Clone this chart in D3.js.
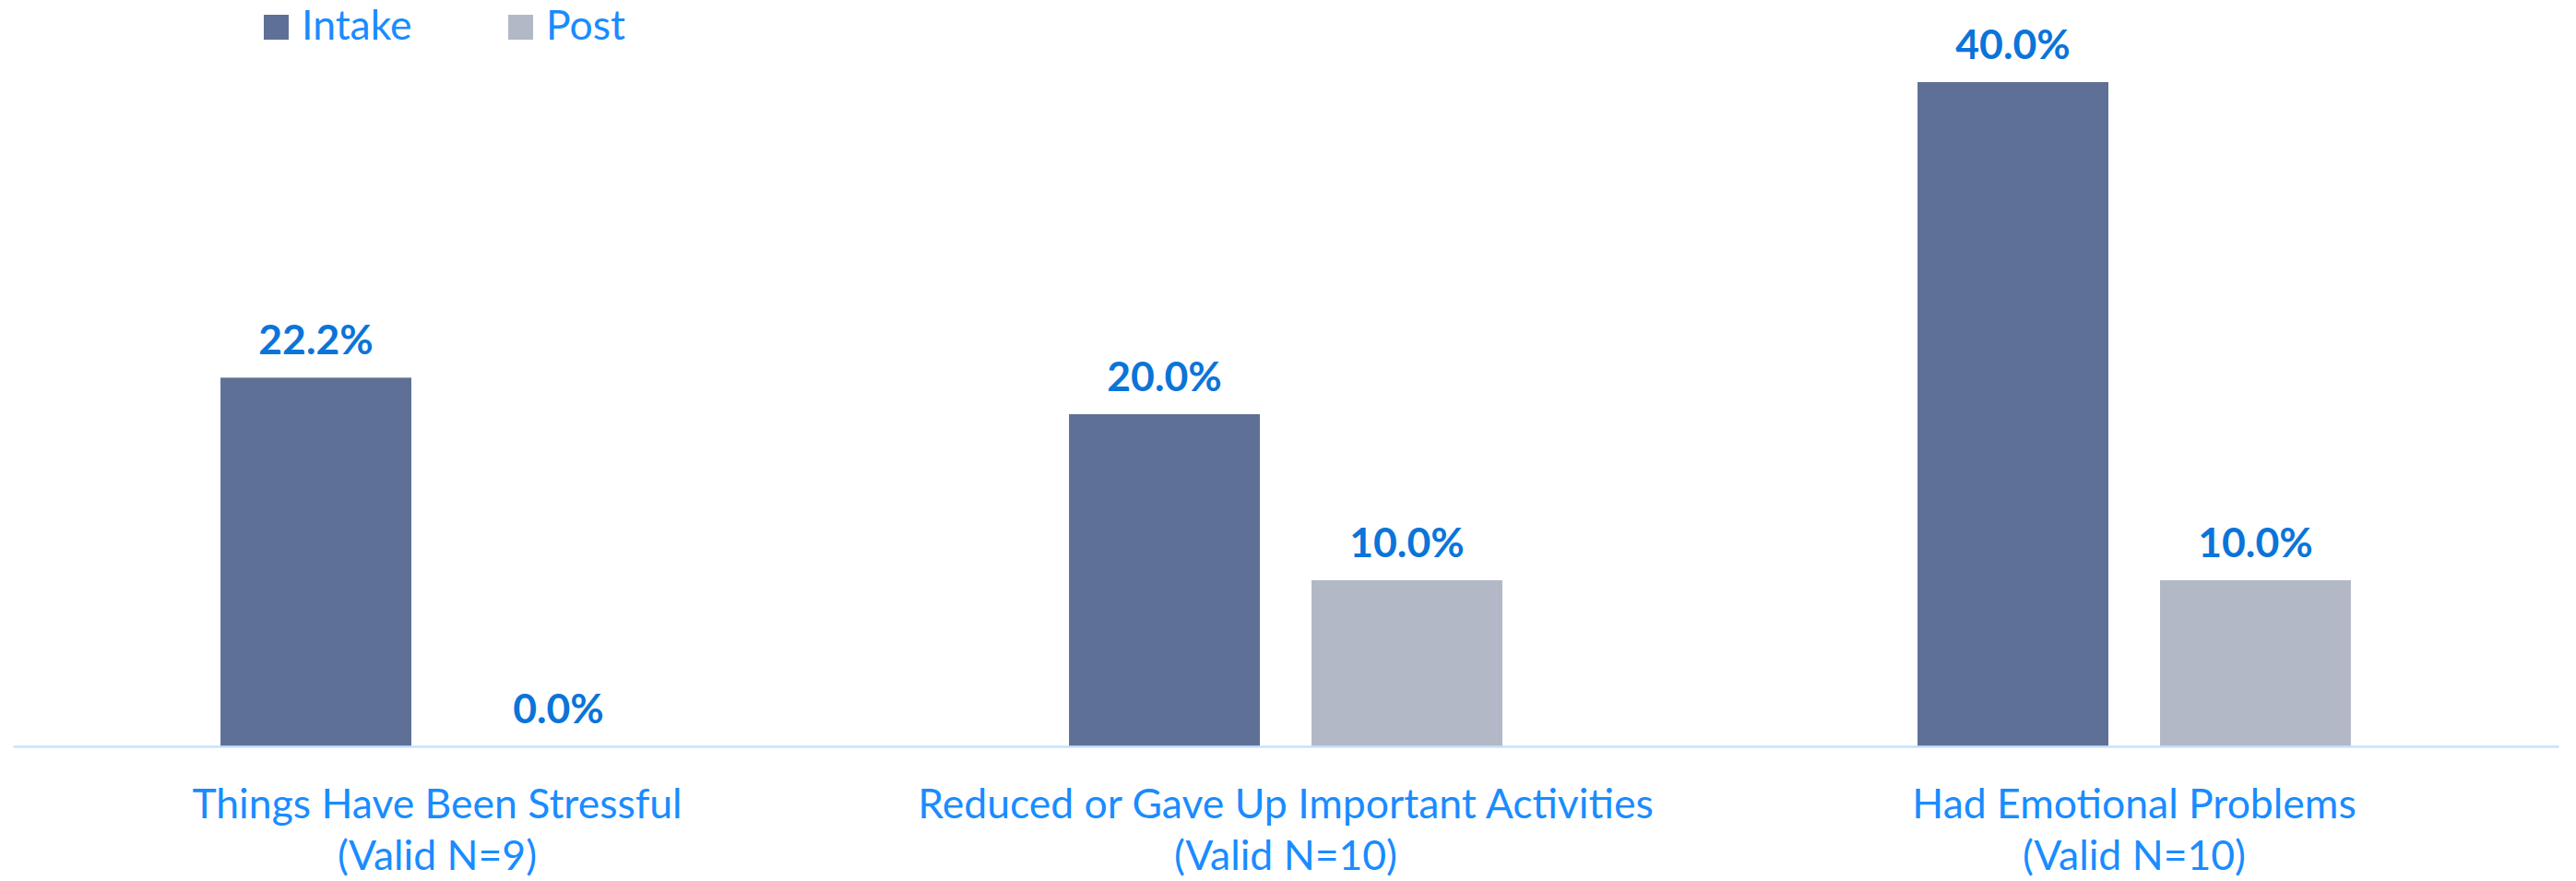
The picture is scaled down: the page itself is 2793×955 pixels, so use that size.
<!DOCTYPE html>
<html>
<head>
<meta charset="utf-8">
<script src="https://cdn.jsdelivr.net/npm/d3@7"></script>
<style>
  html, body { margin: 0; padding: 0; background: #fff; }
  svg { display: block; }
</style>
</head>
<body>
<svg id="chart" width="2793" height="955"></svg>
<script>
const categories = [
  ["Things Have Been Stressful", "(Valid N=9)"],
  ["Reduced or Gave Up Important Activities", "(Valid N=10)"],
  ["Had Emotional Problems", "(Valid N=10)"]
];
const seriesNames = ["Intake", "Post"];
const intakeValues = [22.2, 20.0, 40.0];
const postValues = [0.0, 10.0, 10.0];
const colors = ["#5e7095", "#b2b8c5"];

const W = 2793, H = 955;
const svg = d3.select("#chart");
const FONT = "Lato, 'Open Sans', sans-serif";

const x0 = d3.scaleBand().domain(d3.range(categories.length)).range([14, 2774]).paddingInner(0).paddingOuter(0);
const x1 = d3.scaleBand().domain(seriesNames).range([0, x0.bandwidth()]).paddingInner(0.213).paddingOuter(0.856);
const y = d3.scaleLinear().domain([0, 40]).range([809, 89]);

const series = [intakeValues, postValues];

// bars
const groups = svg.append("g").selectAll("g").data(categories).join("g")
  .attr("transform", (d, i) => `translate(${x0(i)},0)`);

groups.each(function(d, i) {
  const g = d3.select(this);
  seriesNames.forEach((s, si) => {
    const v = series[si][i];
    g.append("rect")
      .attr("x", x1(s))
      .attr("y", y(v))
      .attr("width", x1.bandwidth())
      .attr("height", y(0) - y(v))
      .attr("fill", colors[si]);
    g.append("text")
      .attr("x", x1(s) + x1.bandwidth() / 2)
      .attr("y", y(v) - 25)
      .attr("text-anchor", "middle")
      .attr("font-family", FONT)
      .attr("font-weight", "bold")
      .attr("font-size", 44.5)
      .attr("fill", "#0b74d9")
      .text(v.toFixed(1) + "%");
  });
});

// axis baseline
const axis = d3.axisBottom(x0).tickSize(0).tickFormat("");
const axG = svg.append("g").attr("transform", `translate(0,${y(0)})`).call(axis);
axG.select(".domain").attr("stroke", "#c5e2ff").attr("stroke-width", 2.5);

// category labels
categories.forEach((lines, i) => {
  const t = svg.append("text")
    .attr("text-anchor", "middle")
    .attr("font-family", FONT)
    .attr("font-size", 44.5)
    .attr("fill", "#198cff");
  lines.forEach((ln, li) => {
    t.append("tspan")
      .attr("x", x0(i) + x0.bandwidth() / 2)
      .attr("y", 887 + li * 56)
      .text(ln);
  });
});

// legend
const legendX = [286, 551];
seriesNames.forEach((s, si) => {
  svg.append("rect")
    .attr("x", legendX[si]).attr("y", 16)
    .attr("width", 27).attr("height", 27)
    .attr("fill", colors[si]);
  svg.append("text")
    .attr("x", legendX[si] + 41).attr("y", 43)
    .attr("font-family", FONT)
    .attr("font-size", 44.5)
    .attr("fill", "#198cff")
    .text(s);
});
</script>
</body>
</html>
